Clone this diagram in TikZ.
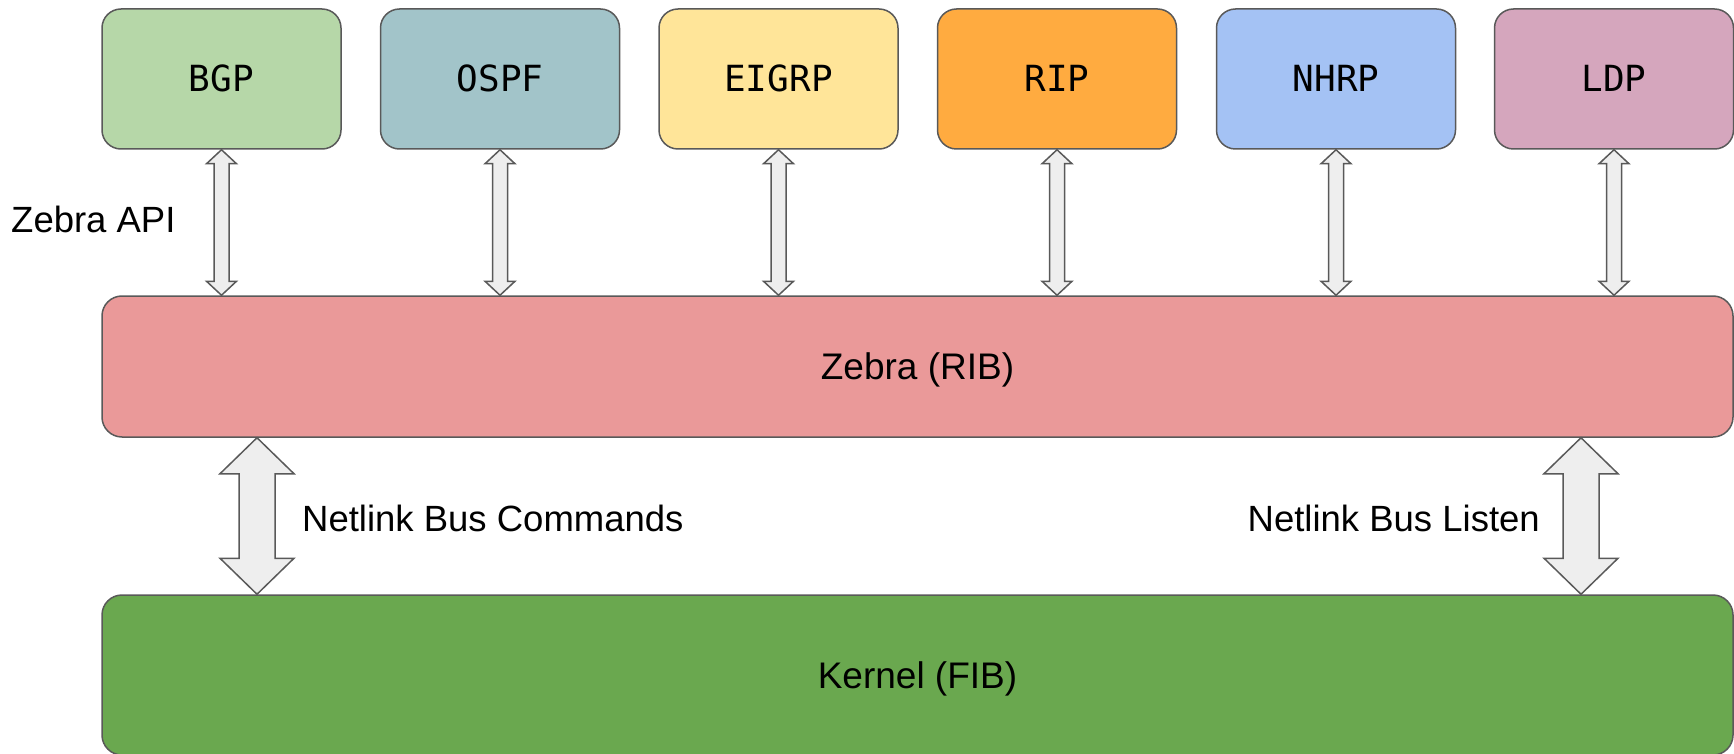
\documentclass[tikz,border=0pt]{standalone}
\usepackage{fontspec}
\setmainfont{Liberation Sans}
\newfontfamily\monofont{DejaVu Sans Mono}
\usetikzlibrary{calc}
\definecolor{edgec}{HTML}{595959}
\definecolor{arrowc}{HTML}{EEEEEE}
\definecolor{bgpc}{HTML}{B6D7A8}
\definecolor{ospfc}{HTML}{A2C4C9}
\definecolor{eigrpc}{HTML}{FFE599}
\definecolor{ripc}{HTML}{FFAB40}
\definecolor{nhrpc}{HTML}{A4C2F4}
\definecolor{ldpc}{HTML}{D5A6BD}
\definecolor{zebrac}{HTML}{EA9999}
\definecolor{kernc}{HTML}{6AA84F}
\tikzset{
  proto/.style={draw=edgec, line width=1.5pt, rounded corners=19pt,
    minimum width=239pt, minimum height=140pt, inner sep=0pt,
    font=\monofont\fontsize{36}{40}\selectfont, text height=26pt, text depth=0pt},
  layer/.style={draw=edgec, line width=1.5pt, rounded corners=20pt,
    minimum width=1631pt, inner sep=0pt,
    font=\fontsize{37}{44}\selectfont, text height=26.5pt, text depth=0pt},
  lbl/.style={inner sep=0pt, font=\fontsize{36.5}{44}\selectfont},
  dbl/.style={draw=edgec, line width=1.5pt, fill=arrowc, line join=miter},
}
% #1 top point, #2 bottom point, #3 shaft half width, #4 head half width, #5 head length
\newcommand\vdarrow[5]{%
  \draw[dbl] let \p1=(#1), \p2=(#2) in
    (\x1,\y1) -- (\x1+#4,\y1-#5) -- (\x1+#3,\y1-#5) -- (\x1+#3,\y2+#5)
    -- (\x1+#4,\y2+#5) -- (\x1,\y2) -- (\x1-#4,\y2+#5) -- (\x1-#3,\y2+#5)
    -- (\x1-#3,\y1-#5) -- (\x1-#4,\y1-#5) -- cycle;}
\begin{document}
\begin{tikzpicture}[x=1pt,y=-1pt]
\useasboundingbox (0,0) rectangle (1734,754);
\node[proto, fill=bgpc]   (bgp)   at (221.5,79) {BGP};
\node[proto, fill=ospfc]  (ospf)  at (500,79)   {OSPF};
\node[proto, fill=eigrpc] (eigrp) at (778.5,79) {EIGRP};
\node[proto, fill=ripc]   (rip)   at (1057,79)  {RIP};
\node[proto, fill=nhrpc]  (nhrp)  at (1336,79)  {NHRP};
\node[proto, fill=ldpc]   (ldp)   at (1614,79)  {LDP};
\node[layer, fill=zebrac, minimum height=141pt] (zebra)  at (917.5,366.5) {Zebra (RIB)};
\node[layer, fill=kernc,  minimum height=160pt] (kernel) at (917.5,675)   {Kernel (FIB)};
\foreach \q in {bgp,ospf,eigrp,rip,nhrp,ldp}{
  \vdarrow{\q.south}{\q.south |- zebra.north}{7.5pt}{15pt}{14pt}
}
\coordinate (cmdx) at (257,0);
\coordinate (lisx) at (1581,0);
\vdarrow{zebra.south -| cmdx}{kernel.north -| cmdx}{18pt}{37pt}{36pt}
\vdarrow{zebra.south -| lisx}{kernel.north -| lisx}{18pt}{37pt}{36pt}
\node[lbl, anchor=base west] (api) at (11,232.7) {Zebra API};
\node[lbl, anchor=base west] (cmd) at (302,531.7) {Netlink Bus Commands};
\node[lbl, anchor=base east] (lis) at (1540,531.7) {Netlink Bus Listen};
\end{tikzpicture}
\end{document}
